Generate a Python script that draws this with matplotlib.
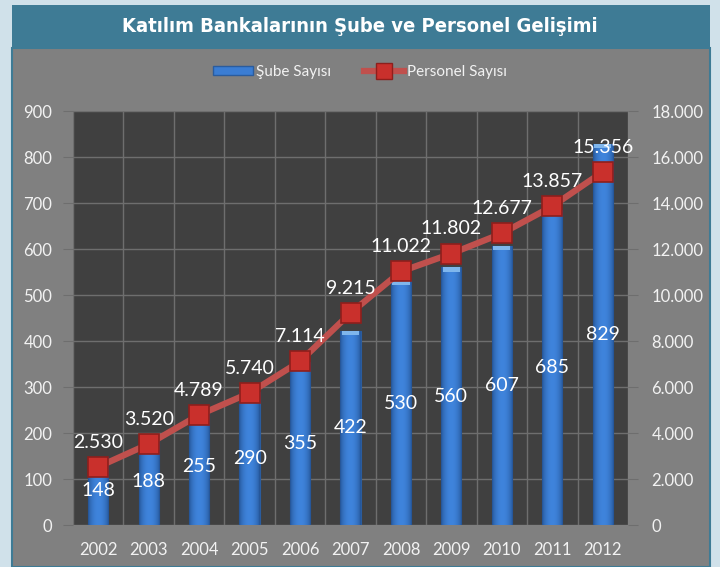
import numpy as np
from matplotlib import pyplot as plt
from matplotlib.colors import LinearSegmentedColormap
from matplotlib.lines import Line2D
from matplotlib.patches import Patch, Rectangle
from matplotlib.ticker import FuncFormatter, MultipleLocator

years = ["2002", "2003", "2004", "2005", "2006", "2007", "2008", "2009", "2010", "2011", "2012"]
sube = [148, 188, 255, 290, 355, 422, 530, 560, 607, 685, 829]
personel = [2530, 3520, 4789, 5740, 7114, 9215, 11022, 11802, 12677, 13857, 15356]

TITLE = "Katılım Bankalarının Şube ve Personel Gelişimi"
BAR_LABEL = "Şube Sayısı"
LINE_LABEL = "Personel Sayısı"

OUTER = "#d0e1ea"
BAND = "#3e7b95"
PANEL = "#808080"
PLOT_BG = "#404040"
GRID = "#6e6e6e"
TXT = "#f2f2f2"
BLUE = "#3b7dd3"
RED = "#c0504d"

FONT = ["Lato", "DejaVu Sans"]


def dots(v, _pos=None):
    return f"{int(v):,}".replace(",", ".")


def main():
    fig = plt.figure(figsize=(7.2, 5.67), dpi=100, facecolor=OUTER)

    # panel frame and title band, kept behind the axes
    fig.patches.append(Rectangle((12 / 720, 0), 698 / 720, 519 / 567, transform=fig.transFigure,
                                 facecolor=PANEL, edgecolor=BAND, linewidth=1.5, zorder=-2))
    fig.patches.append(Rectangle((12 / 720, 519 / 567), 698 / 720, 43 / 567, transform=fig.transFigure,
                                 facecolor=BAND, edgecolor="none", zorder=-1))
    fig.text(0.5, 1 - 27 / 567, TITLE, ha="center", va="center", color="white", fontsize=14.5,
             fontweight="bold", family="DejaVu Sans", fontstretch="condensed")

    ax = fig.add_axes([73 / 720, 42 / 567, 555 / 720, 414 / 567])
    ax.set_facecolor(PLOT_BG)
    x = np.arange(len(years))

    bars = ax.bar(x, sube, width=0.4, color=BLUE, edgecolor="#2a5c9e", linewidth=0.8, zorder=2)
    # horizontal shading on each bar plus a light bevel on top
    grad = np.sin(np.linspace(0, 1, 64) * np.pi) ** 0.6
    cmap = LinearSegmentedColormap.from_list("b", ["#22508f", "#3f84dc"])
    for b in bars:
        im = ax.imshow(grad[np.newaxis, :], aspect="auto", cmap=cmap, zorder=2.1,
                       extent=(b.get_x(), b.get_x() + b.get_width(), 0, b.get_height()))
        im.set_clip_path(b)
        ax.add_patch(Rectangle((b.get_x() + 0.03, b.get_height() - 9), b.get_width() - 0.06, 9,
                               facecolor="#7fb6ec", edgecolor="none", zorder=2.2))
    for xi, v in zip(x, sube):
        ax.text(xi, v / 2, str(v), ha="center", va="center", color="white", fontsize=14,
                family=FONT, zorder=5)

    ax.set_xlim(-0.5, len(years) - 0.5)
    ax.set_ylim(0, 900)
    ax.yaxis.set_major_locator(MultipleLocator(100))
    ax.set_xticks(x)
    ax.set_xticklabels(years)
    ax.set_xticks(np.arange(-0.5, len(years)), minor=True)
    ax.grid(True, which="major", axis="y", color=GRID, linewidth=1, zorder=0)
    ax.grid(True, which="minor", axis="x", color=GRID, linewidth=1, zorder=0)
    ax.set_axisbelow(True)
    ax.tick_params(axis="x", which="major", length=0, pad=12, colors=TXT, labelsize=12)
    ax.tick_params(axis="x", which="minor", length=0)
    ax.tick_params(axis="y", length=7, colors=TXT, labelsize=12, pad=8)
    ax.tick_params(axis="y", color=GRID)
    for lab in ax.get_xticklabels() + ax.get_yticklabels():
        lab.set_family(FONT)
    for s in ax.spines.values():
        s.set_visible(False)

    ax2 = ax.twinx()
    ax2.set_ylim(0, 18000)
    ax2.yaxis.set_major_locator(MultipleLocator(2000))
    ax2.yaxis.set_major_formatter(FuncFormatter(dots))
    ax2.tick_params(axis="y", length=7, colors=TXT, labelsize=12, pad=10)
    ax2.tick_params(axis="y", color=GRID)
    for lab in ax2.get_yticklabels():
        lab.set_family(FONT)
    for s in ax2.spines.values():
        s.set_visible(False)
    ax2.plot(x, personel, color=RED, linewidth=4.5, marker="s", markersize=14,
             markerfacecolor="#c9302c", markeredgecolor="#8e1f1c", markeredgewidth=1.2, zorder=3)
    for xi, v in zip(x, personel):
        ax2.text(xi, v + 700, dots(v), ha="center", va="bottom", color="white", fontsize=14,
                 family=FONT, zorder=5)

    handles = [
        Patch(facecolor=BLUE, edgecolor="#2a5c9e"),
        Line2D([0], [0], color=RED, linewidth=4.5, marker="s", markersize=11,
               markerfacecolor="#c9302c", markeredgecolor="#8e1f1c"),
    ]
    fig.legend(handles, [BAR_LABEL, LINE_LABEL], loc="center", bbox_to_anchor=(0.5, 1 - 72 / 567),
               ncol=2, frameon=False, prop={"family": FONT, "size": 11}, labelcolor=TXT,
               handlelength=2.6, handleheight=0.5, handletextpad=0.2, columnspacing=2.2)

    fig.savefig("out.png", dpi=100, facecolor=OUTER)


if __name__ == "__main__":
    main()
